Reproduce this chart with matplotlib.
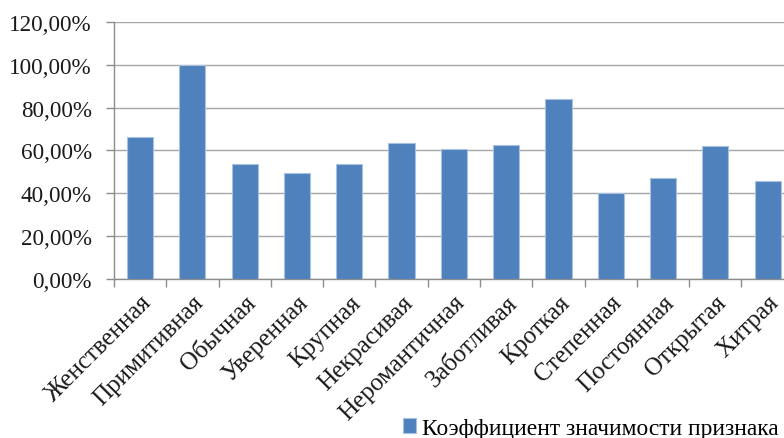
import numpy as np
import matplotlib
matplotlib.use("Agg")
import matplotlib.pyplot as plt
from matplotlib.ticker import FuncFormatter, FixedLocator, NullFormatter

categories = ["Женственная", "Примитивная", "Обычная", "Уверенная", "Крупная",
              "Некрасивая", "Неромантичная", "Заботливая", "Кроткая", "Степенная",
              "Постоянная", "Открытая", "Хитрая"]
values = [0.664, 1.000, 0.537, 0.494, 0.537, 0.636, 0.608, 0.625, 0.841,
          0.402, 0.470, 0.620, 0.459]
series_name = "Коэффициент значимости признака"
y_ticks = [0.0, 0.2, 0.4, 0.6, 0.8, 1.0, 1.2]

plt.rcParams['font.family'] = ['Liberation Serif', 'DejaVu Serif']

fig = plt.figure(figsize=(7.84, 4.39), dpi=100)
ax = fig.add_axes([0.1454, 0.3633, 0.867, 0.5832])

x = np.arange(len(categories))
bars = ax.bar(x, values, width=0.5, color="#4F81BD", edgecolor="#a9c1e0",
              linewidth=0.8, zorder=3, label=series_name)

ax.set_xlim(-0.5, len(categories) - 0.5)
ax.set_ylim(0, 1.2)
ax.set_yticks(y_ticks)
ax.yaxis.set_major_formatter(FuncFormatter(lambda v, p: f"{v*100:.2f}%".replace('.', ',')))
ax.grid(axis='y', color="#a6a6a6", linewidth=1.0, zorder=0)

# category labels at centres, ticks at boundaries
ax.set_xticks(x)
ax.set_xticklabels(categories, rotation=45, ha='right', rotation_mode='anchor')
ax.tick_params(axis='x', which='major', length=0, pad=9, labelsize=18)
ax.xaxis.set_minor_locator(FixedLocator(np.arange(-0.5, len(categories), 1.0)))
ax.xaxis.set_minor_formatter(NullFormatter())
ax.tick_params(axis='x', which='minor', length=6, color="#8c8c8c", width=1)
ax.tick_params(axis='y', length=6, color="#8c8c8c", width=1, labelsize=16.7, pad=10,
               labelcolor="#1a1a1a")
ax.tick_params(axis='x', labelcolor="#1a1a1a")

for s in ['top', 'right']:
    ax.spines[s].set_visible(False)
for s in ['left', 'bottom']:
    ax.spines[s].set_color("#8c8c8c")
    ax.spines[s].set_linewidth(1.0)

fig.legend(handles=[bars], labels=[series_name], loc='lower left',
           bbox_to_anchor=(0.487, -0.05), frameon=False, fontsize=16.9,
           handlelength=0.55, handleheight=0.55, handletextpad=0.25)

fig.savefig("out.png", dpi=100)
